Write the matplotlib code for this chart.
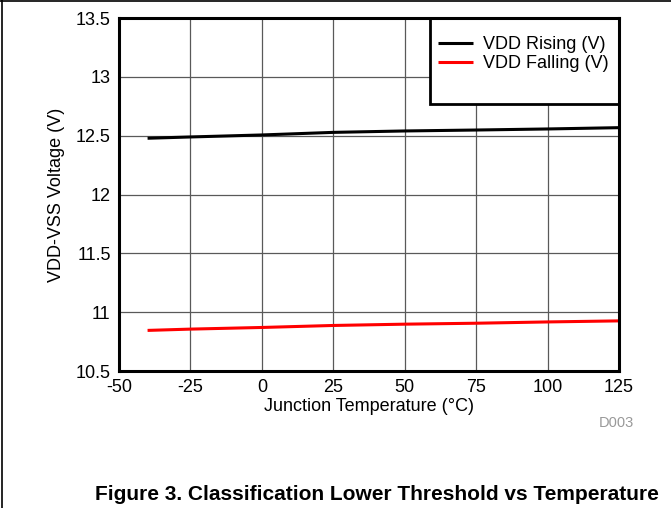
import matplotlib
matplotlib.use("Agg")
import matplotlib.pyplot as plt
from matplotlib.lines import Line2D
from matplotlib.patches import Rectangle

plt.rcParams['font.family'] = ['Liberation Sans', 'DejaVu Sans']

temperature = [-40, -25, 0, 25, 50, 75, 100, 125]
vdd_rising = [12.478, 12.489, 12.506, 12.528, 12.540, 12.548, 12.557, 12.568]
vdd_falling = [10.845, 10.856, 10.870, 10.887, 10.898, 10.906, 10.917, 10.926]
x_ticks = [-50, -25, 0, 25, 50, 75, 100, 125]
y_ticks = [10.5, 11, 11.5, 12, 12.5, 13, 13.5]
y_tick_labels = ['10.5', '11', '11.5', '12', '12.5', '13', '13.5']

W, H = 671, 508
AX_L, AX_R, AX_T, AX_B = 119, 619, 18, 371

fig = plt.figure(figsize=(W / 100, H / 100), dpi=100)
ax = fig.add_axes([AX_L / W, 1 - AX_B / H, (AX_R - AX_L) / W, (AX_B - AX_T) / H])

ax.plot(temperature, vdd_rising, color='black', lw=2.2, label='VDD Rising (V)', solid_capstyle='butt')
ax.plot(temperature, vdd_falling, color='#ff0000', lw=2.2, label='VDD Falling (V)', solid_capstyle='butt')

ax.set_xlim(-50, 125)
ax.set_ylim(10.5, 13.5)
ax.set_xticks(x_ticks)
ax.set_xticklabels([str(v) for v in x_ticks])
ax.set_yticks(y_ticks)
ax.set_yticklabels(y_tick_labels)
ax.tick_params(length=0, labelsize=13, pad=6, colors='black')
ax.grid(True, color='0.35', lw=0.9)
ax.set_axisbelow(True)
for s in ax.spines.values():
    s.set_linewidth(2.2)
    s.set_color('black')
    s.set_zorder(5)

ax.set_xlabel('Junction Temperature (\u00b0C)', fontsize=13, labelpad=1)
ax.set_ylabel('VDD-VSS Voltage (V)', fontsize=13, labelpad=8)

# legend box (frame drawn separately to match its padding)
box_l, box_t, box_b = 430, AX_T, 104
ax_w, ax_h = AX_R - AX_L, AX_B - AX_T
frame = Rectangle(((box_l - AX_L) / ax_w, (AX_B - box_b) / ax_h),
                  (AX_R - box_l) / ax_w, (box_b - box_t) / ax_h,
                  transform=ax.transAxes, facecolor='white', edgecolor='black',
                  lw=2.0, zorder=4, clip_on=False)
ax.add_patch(frame)

leg = ax.legend(loc='upper right', fontsize=13, frameon=False,
                bbox_to_anchor=(1.0, 1 - 8 / ax_h),
                borderaxespad=0, handlelength=1.9, handletextpad=0.6,
                borderpad=0.55, labelspacing=0.12)
leg.set_zorder(6)

fig.text(616 / W, 1 - 423 / H, 'D003', color='0.6', fontsize=10.5, ha='center', va='center')
fig.text(377 / W, 1 - 494 / H, 'Figure 3. Classification Lower Threshold vs Temperature',
         fontsize=15, fontweight='bold', ha='center', va='center')

# page border lines
fig.add_artist(Line2D([0, 1], [1 - 1 / H, 1 - 1 / H], color='black', lw=1.2, transform=fig.transFigure))
fig.add_artist(Line2D([1.5 / W, 1.5 / W], [0, 1], color='black', lw=1.2, transform=fig.transFigure))

fig.savefig('out.png', dpi=100)
